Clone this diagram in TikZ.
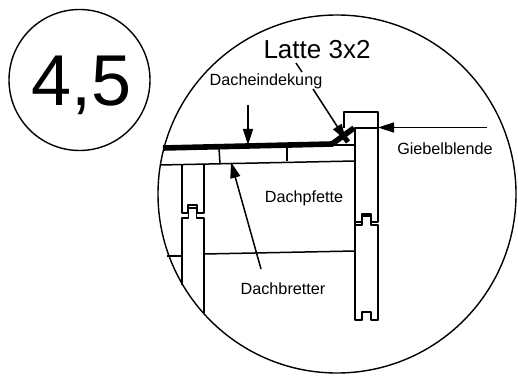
\documentclass[tikz,border=0pt]{standalone}
\usepackage{fontspec}
\setmainfont{Liberation Sans}
\usetikzlibrary{arrows.meta}
\tikzset{
  x=1pt,y=-1pt,
  outline/.style={draw=black,line width=1.5pt,line join=round},
  ring/.style={draw=black,line width=1.4pt,circle,inner sep=0pt},
  lbl/.style={inner sep=0pt,font=\fontsize{16.2}{18}\selectfont},
  pointer/.style={draw=black,line width=1.5pt,-{Triangle[length=16pt,width=10pt]}},
}
\begin{document}
\begin{tikzpicture}
\useasboundingbox (0,0) rectangle (518,382);
\node[ring,minimum size=141pt] (small) at (79.5,80) {};
\node[inner sep=0pt,anchor=base,font=\fontsize{72}{74}\selectfont] (num) at (81.5,106) {4,5};
\node[ring,minimum size=358pt] (big) at (337,194) {};
% roof
\draw[draw=black,line width=5.6pt] (163,148) -- (332,144) -- (354,128);
\draw[draw=black,line width=5pt] (338,129) -- (348,142);
% boards
\draw[outline] (160,165) -- (355,161);
\draw[outline] (219,148) -- (220,164);
\draw[outline] (287,147) -- (287,161);
\draw[outline] (332,145) -- (355,145);
% right post
\draw[outline] (344,128) -- (344,112) -- (378,112) -- (378,222) -- (371,222) -- (371,214) -- (362,214) -- (362,222) -- (355,222) -- (355,128) -- (378,128);
\draw[outline] (355,222) -- (355,225) -- (362,225) -- (362,216) -- (371,216) -- (371,225) -- (378,225) -- (378,320) -- (371,320) -- (371,312) -- (362,312) -- (362,320) -- (355,320) -- cycle;
% left post
\draw[outline] (182,165) -- (182,213) -- (188,213) -- (188,205) -- (197,205) -- (197,213) -- (204,213) -- (204,165);
\draw[outline] (182,285) -- (182,218) -- (188.5,218) -- (188.5,208) -- (196.5,208) -- (196.5,218) -- (204,218) -- (204,313);
% purlin line
\draw[outline] (204,254) -- (355,251);
\draw[outline] (167,256) -- (182,256);
% labels
\node[inner sep=0pt,font=\fontsize{26}{28}\selectfont] (latte) at (317,50) {Latte 3x2};
\node[lbl] (deck) at (266,81) {Dacheindekung};
\node[lbl] (pfette) at (304,198) {Dachpfette};
\node[lbl] (brett) at (283,289) {Dachbretter};
\node[lbl] (blende) at (445,149) {Giebelblende};
% pointers
\coordinate (deckfrom) at (248,105);
\coordinate (deckto) at (248,145);
\draw[pointer] (deckfrom) -- (deckto);
\coordinate (blendefrom) at (487,127.5);
\coordinate (blendeto) at (378,127.5);
\draw[pointer] (blendefrom) -- (blendeto);
\coordinate (brettfrom) at (261,269);
\coordinate (brettto) at (231,162);
\draw[pointer] (brettfrom) -- (brettto);
\coordinate (lattea) at (313,89);
\coordinate (latteb) at (346,140);
\draw[pointer] (lattea) -- (latteb);
\coordinate (lattec) at (296,63);
\coordinate (latted) at (302,72);
\draw[outline] (lattec) -- (latted);
\end{tikzpicture}
\end{document}
